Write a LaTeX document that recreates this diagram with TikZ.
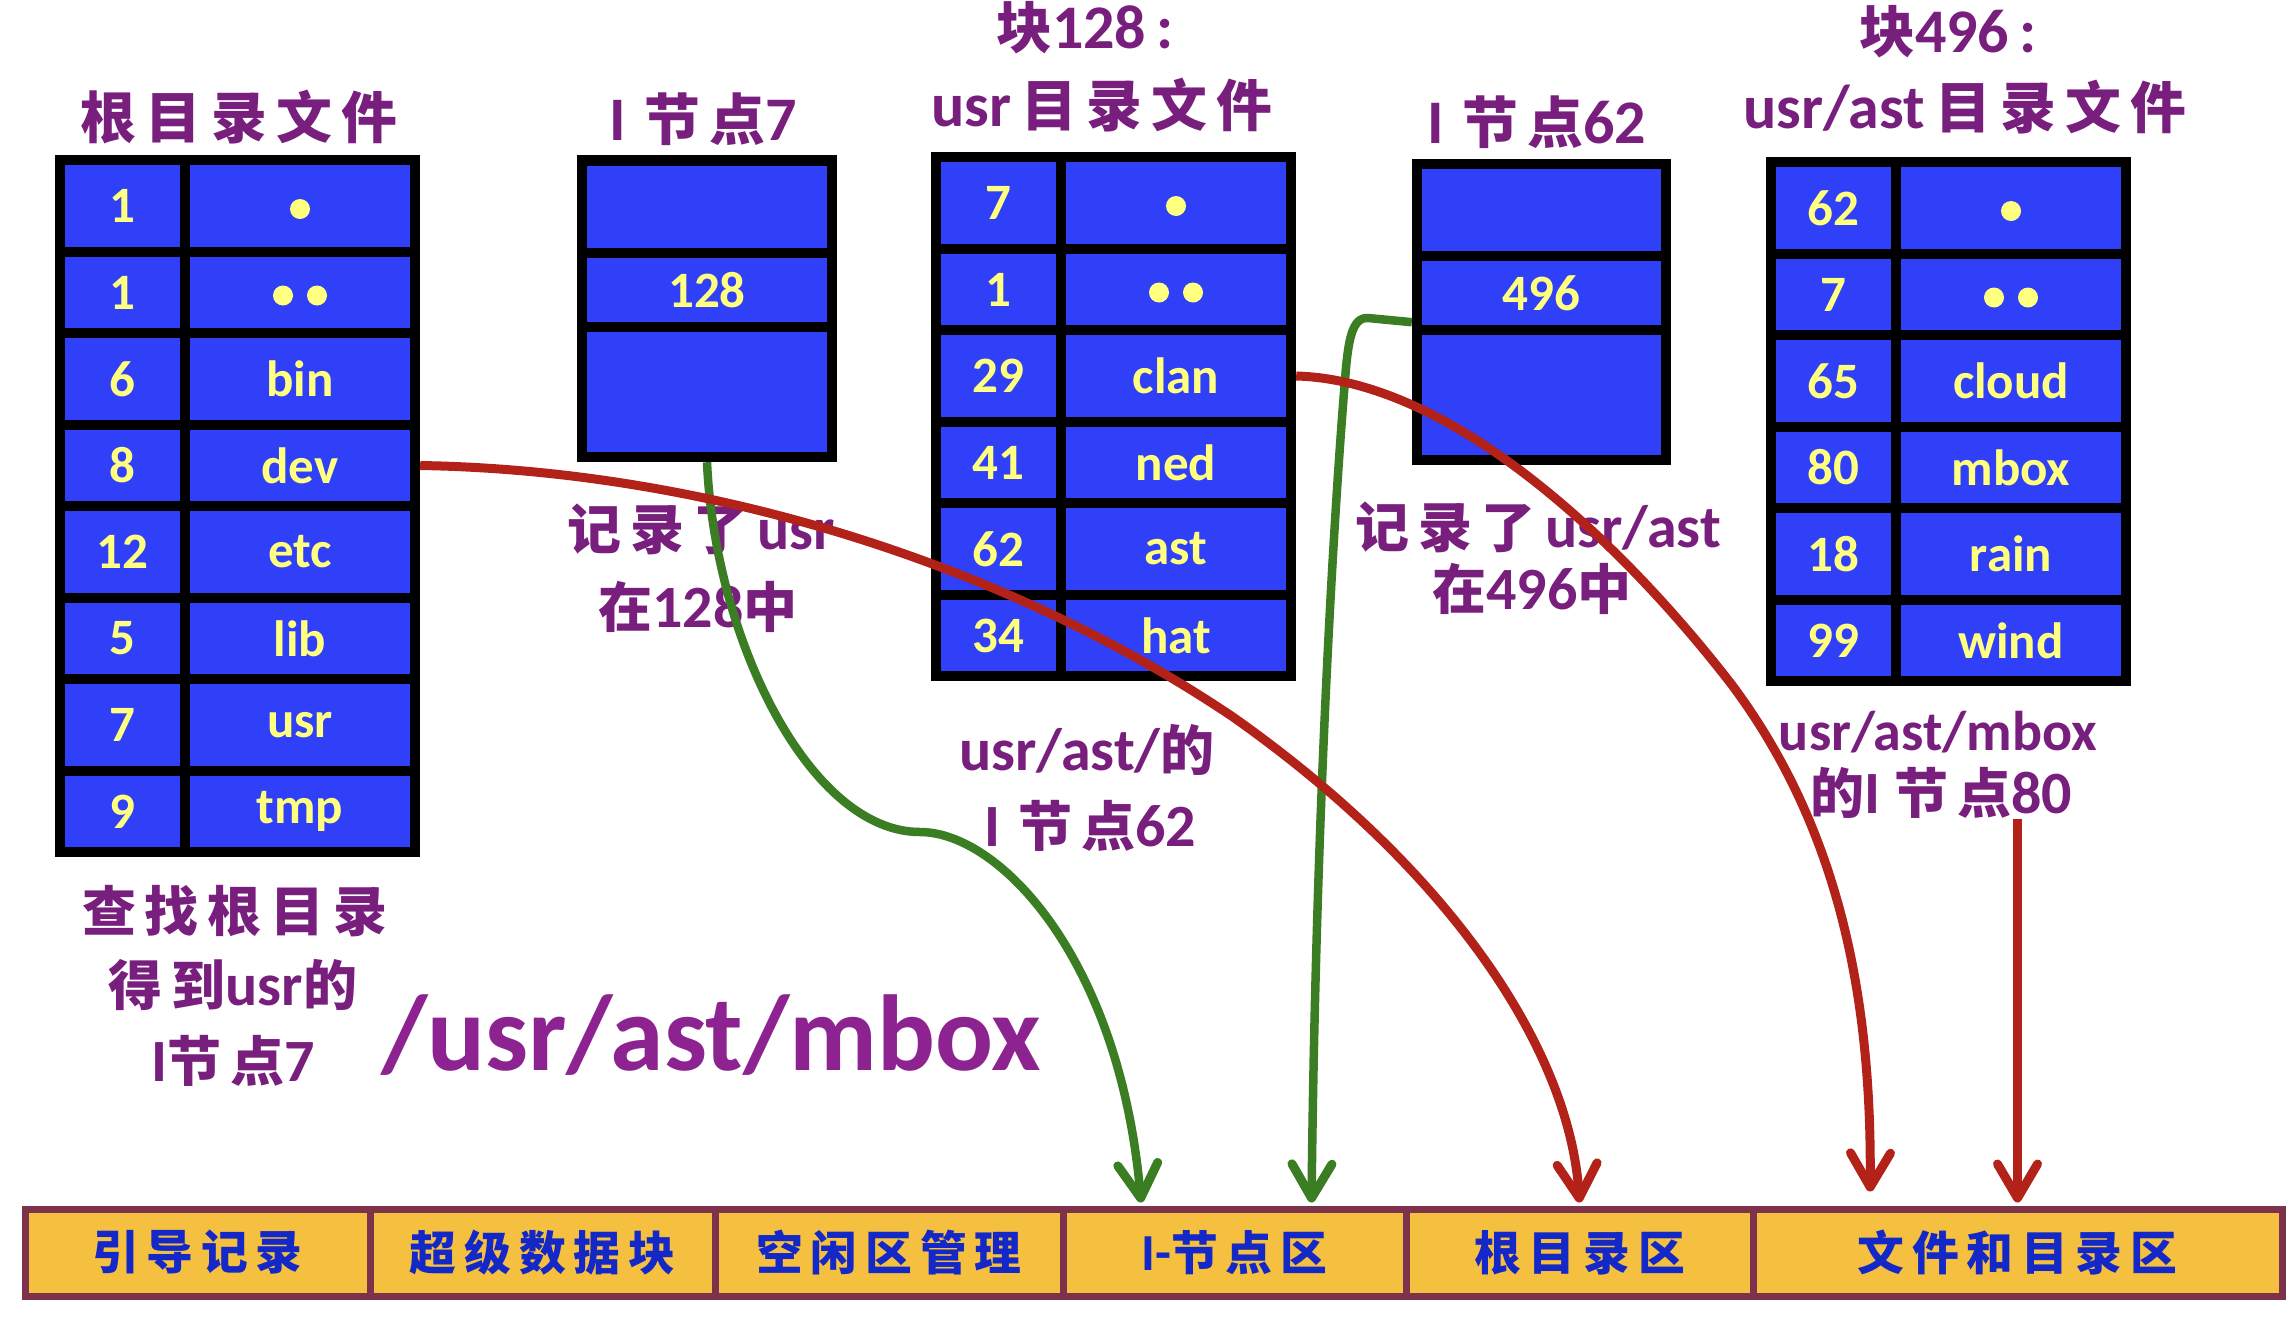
\documentclass[tikz,border=0pt]{standalone}
\usepackage{fontspec}
\setmainfont{Carlito}
\newfontfamily\cjk{Noto Sans CJK SC}[Scale=0.9]
\usetikzlibrary{arrows.meta,calc}

\definecolor{cellblue}{RGB}{48,64,248}
\definecolor{celltext}{RGB}{255,255,128}
\definecolor{ptext}{RGB}{120,30,125}
\definecolor{pbig}{RGB}{140,35,145}
\definecolor{barfill}{RGB}{245,192,64}
\definecolor{barline}{RGB}{125,50,75}
\definecolor{bartext}{RGB}{20,40,200}
\definecolor{ared}{RGB}{178,34,24}
\definecolor{agreen}{RGB}{58,125,34}

\newcommand\fs[1]{\fontsize{#1}{#1}\selectfont}

% #1 prefix, #2 left x, #3 top y, #4 rows
\newcommand\dtable[4]{%
  \foreach \k/\a/\b/\u/\v in {#4} {
    \node[cell, minimum width=115pt, minimum height={\b-\a}] (#1n\k) at ({#2+67.5},{#3+(\a+\b)/2}) {\u};
    \node[cell, minimum width=220pt, minimum height={\b-\a}] (#1m\k) at ({#2+245},{#3+(\a+\b)/2}) {\v};
  }}

\begin{document}
\begin{tikzpicture}[x=1pt,y=-1pt,
  cell/.style={fill=cellblue, inner sep=0pt, text=celltext, font=\fs{51}\bfseries},
  tblframe/.style={fill=black, inner sep=0pt},
  ttl/.style={text=ptext, inner sep=0pt, font=\fs{62}\bfseries},
  lbl/.style={text=ptext, inner sep=0pt, font=\fs{60}\bfseries},
  barcell/.style={draw=barline, line width=7pt, fill=barfill, inner sep=0pt,
    minimum height=87pt, text=bartext, font=\fs{52}\bfseries},
  redarr/.style={draw=ared, line width=9pt,
    -{Straight Barb[length=34pt,width=40pt,line width=9pt,round]}},
  greenarr/.style={draw=agreen, line width=8.5pt,
    -{Straight Barb[length=34pt,width=40pt,line width=9pt,round]}},
  celldot/.style={fill=celltext}
]
\useasboundingbox (0,0) rectangle (2292,1328);
\fill[white] (0,0) rectangle (2292,1328);

% ---------- root directory table ----------
\node[tblframe, minimum width=365pt, minimum height=702pt] (rootT) at (237.5,506) {};
\dtable{r}{55}{155}{1/10/92/1/{}, 2/102/173/1/{}, 3/183/265/6/bin, 4/275/346/8/dev,
  5/356/438/12/etc, 6/448/519/5/lib, 7/529/611/7/usr, 8/621/692/9/tmp}
\fill[celldot] ($(rm1.center)+(0,3)$) circle[radius=10pt];
\fill[celldot] ($(rm2.center)+(-17,3)$) circle[radius=10pt];
\fill[celldot] ($(rm2.center)+(17,3)$) circle[radius=10pt];

% ---------- i-node 7 ----------
\node[tblframe, minimum width=260pt, minimum height=307pt] (i7) at (707,308.5) {};
\node[cell, minimum width=240pt, minimum height=82pt] (i7a) at (707,207) {};
\node[cell, minimum width=240pt, minimum height=64pt] (i7b) at (707,290) {128};
\node[cell, minimum width=240pt, minimum height=120pt] (i7c) at (707,392) {};

% ---------- block 128 ----------
\node[tblframe, minimum width=365pt, minimum height=529pt] (blk128) at (1113.5,416.5) {};
\dtable{c}{931}{152}{1/10/92/7/{}, 2/102/173/1/{}, 3/183/265/29/clan, 4/275/346/41/ned,
  5/356/438/62/ast, 6/448/519/34/hat}
\fill[celldot] ($(cm1.center)+(0,3)$) circle[radius=10pt];
\fill[celldot] ($(cm2.center)+(-17,3)$) circle[radius=10pt];
\fill[celldot] ($(cm2.center)+(17,3)$) circle[radius=10pt];

% ---------- i-node 62 ----------
\node[tblframe, minimum width=259pt, minimum height=306pt] (i62) at (1541.5,312) {};
\node[cell, minimum width=239pt, minimum height=82pt] (i62a) at (1541.5,210) {};
\node[cell, minimum width=239pt, minimum height=64pt] (i62b) at (1541.5,293) {496};
\node[cell, minimum width=239pt, minimum height=120pt] (i62c) at (1541.5,395) {};

% ---------- block 496 ----------
\node[tblframe, minimum width=365pt, minimum height=529pt] (blk496) at (1948.5,421.5) {};
\dtable{d}{1766}{157}{1/10/92/62/{}, 2/102/173/7/{}, 3/183/265/65/cloud, 4/275/346/80/mbox,
  5/356/438/18/rain, 6/448/519/99/wind}
\fill[celldot] ($(dm1.center)+(0,3)$) circle[radius=10pt];
\fill[celldot] ($(dm2.center)+(-17,3)$) circle[radius=10pt];
\fill[celldot] ($(dm2.center)+(17,3)$) circle[radius=10pt];

% ---------- titles ----------
\node[ttl] (t1) at (239,117) {{\cjk 根\,目\,录\,文\,件}};
\node[ttl] (t2) at (703,119) {I\hspace{18pt}{\cjk 节\,点}7};
\node[ttl] (t3) at (1085,28) {{\cjk 块}128\,:};
\node[ttl] (t4) at (1102,105) {usr\,{\cjk 目\,录\,文\,件}};
\node[ttl] (t5) at (1537,122) {I\hspace{18pt}{\cjk 节\,点}62};
\node[ttl] (t6) at (1948,32) {{\cjk 块}496\,:};
\node[ttl] (t7) at (1965,107) {usr/ast\,{\cjk 目\,录\,文\,件}};

% ---------- labels ----------
\node[lbl] (l1) at (701,529) {{\cjk 记\,录\,了}\,usr};
\node[lbl] (l2) at (698,607) {{\cjk 在}128{\cjk 中}};
\node[lbl] (l3) at (1087,750) {usr/ast/{\cjk 的}};
\node[lbl] (l4) at (1090,826) {I\hspace{18pt}{\cjk 节\,点}62};
\node[lbl] (l5) at (1538,527) {{\cjk 记\,录\,了}\,usr/ast};
\node[lbl] (l6) at (1532,589) {{\cjk 在}496{\cjk 中}};
\node[lbl, font=\fs{56}\bfseries] (l7) at (1938,732) {usr/ast/mbox};
\node[lbl] (l8) at (1941,793) {{\cjk 的}I\hspace{14pt}{\cjk 节\,点}80};
\node[lbl] (l9) at (235,911) {{\cjk 查\,找\,根\,目\,录}};
\node[lbl] (l10) at (233,985) {{\cjk 得\,到}usr{\cjk 的}};
\node[lbl] (l11) at (233,1061) {I{\cjk 节\,点}7};
\node[inner sep=0pt, text=pbig, font=\fs{108}\bfseries, anchor=base] (path) at (711,1070) {/usr/ast/mbox};

% ---------- disk layout bar ----------
\node[barcell, minimum width=345pt] (b1) at (197.5,1252.5) {{\cjk 引\,导\,记\,录}};
\node[barcell, minimum width=345pt] (b2) at (542.5,1252.5) {{\cjk 超\,级\,数\,据\,块}};
\node[barcell, minimum width=348pt] (b3) at (889,1252.5) {{\cjk 空\,闲\,区\,管\,理}};
\node[barcell, minimum width=343pt] (b4) at (1234.5,1252.5) {I-{\cjk 节\,点\,区}};
\node[barcell, minimum width=347pt] (b5) at (1579.5,1252.5) {{\cjk 根\,目\,录\,区}};
\node[barcell, minimum width=529pt] (b6) at (2017.5,1252.5) {{\cjk 文\,件\,和\,目\,录\,区}};

% ---------- connectors ----------
\coordinate (g1end) at ($(b4.north west)!0.233!(b4.north east)+(0,-3)$);
\coordinate (g2end) at ($(b4.north west)!0.72!(b4.north east)+(0,-3)$);
\coordinate (r1end) at ($(b5.north)+(0,-3)$);
\coordinate (r2end) at ($(b6.north west)!0.225!(b6.north east)+(0,-14)$);
\coordinate (r3end) at ($(b6.north)+(0,-3)$);

\draw[greenarr] (i7.south) .. controls (715,640) and (810,832) .. (920,832)
  .. controls (1000,832) and (1120,960) .. (g1end);
\draw[greenarr] ($(i62b.south west)+(-10,-3)$) -- (1368,318)
  .. controls (1352,317) and (1348,340) .. (1345,380)
  .. controls (1335,500) and (1316,800) .. (g2end);
\draw[redarr] ([xshift=10pt]rm4.east) .. controls (700,470) and (1000,560) .. (1233,717)
  .. controls (1450,870) and (1570,1050) .. (r1end);
\draw[redarr] ([xshift=10pt]cm3.east) .. controls (1450,380) and (1620,540) .. (1732,685)
  .. controls (1840,830) and (1872,1000) .. (r2end);
\draw[redarr] (l8.south -| b6.north) -- (r3end);
\end{tikzpicture}
\end{document}
